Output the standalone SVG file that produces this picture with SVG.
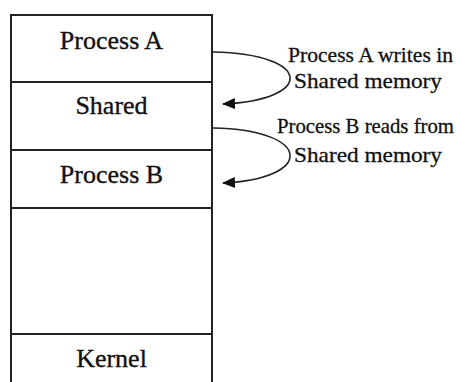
<svg xmlns="http://www.w3.org/2000/svg" width="463" height="382" viewBox="0 0 463 382">
<style>
.box{fill:#fff;stroke:#222;stroke-width:2}
.div{stroke:#222;stroke-width:2}
.t{font-family:"Liberation Serif","Times New Roman",serif;font-size:26px;fill:#111;stroke:#111;stroke-width:0.35;text-anchor:middle}
.l{font-family:"Liberation Serif","Times New Roman",serif;font-size:21px;fill:#111;stroke:#111;stroke-width:0.3}
.c{fill:none;stroke:#222;stroke-width:1.6}
</style>
<defs>
<marker id="ah" viewBox="0 0 13 11" refX="12" refY="5.5" markerWidth="13" markerHeight="11" markerUnits="userSpaceOnUse" orient="auto">
<path d="M0,0 L13,5.5 L0,11 Z" fill="#111"/>
</marker>
</defs>
<rect width="463" height="382" fill="#fff"/>
<g id="memory">
<rect class="box" x="11" y="15" width="201" height="380"/>
</g>
<g id="processA">
<text class="t" x="111.5" y="49">Process A</text>
</g>
<g id="shared">
<line class="div" x1="11" y1="82" x2="212" y2="82"/>
<text class="t" x="111.5" y="114">Shared</text>
</g>
<g id="processB">
<line class="div" x1="11" y1="150" x2="212" y2="150"/>
<text class="t" x="111.5" y="183">Process B</text>
</g>
<g id="free">
<line class="div" x1="11" y1="208" x2="212" y2="208"/>
</g>
<g id="kernel">
<line class="div" x1="11" y1="334" x2="212" y2="334"/>
<text class="t" x="111.5" y="367">Kernel</text>
</g>
<g id="connectors">
<path class="c" d="M213,52 C314,54 314,100 223,104" marker-end="url(#ah)"/>
<path class="c" d="M213,128 C314,130 314,179 223,183" marker-end="url(#ah)"/>
</g>
<g id="labels">
<text class="l" x="288" y="62" textLength="165" lengthAdjust="spacingAndGlyphs">Process A writes in</text>
<text class="l" x="294" y="88" textLength="148" lengthAdjust="spacingAndGlyphs">Shared memory</text>
<text class="l" x="277" y="133" textLength="177" lengthAdjust="spacingAndGlyphs">Process B reads from</text>
<text class="l" x="294" y="162" textLength="148" lengthAdjust="spacingAndGlyphs">Shared memory</text>
</g>
</svg>
